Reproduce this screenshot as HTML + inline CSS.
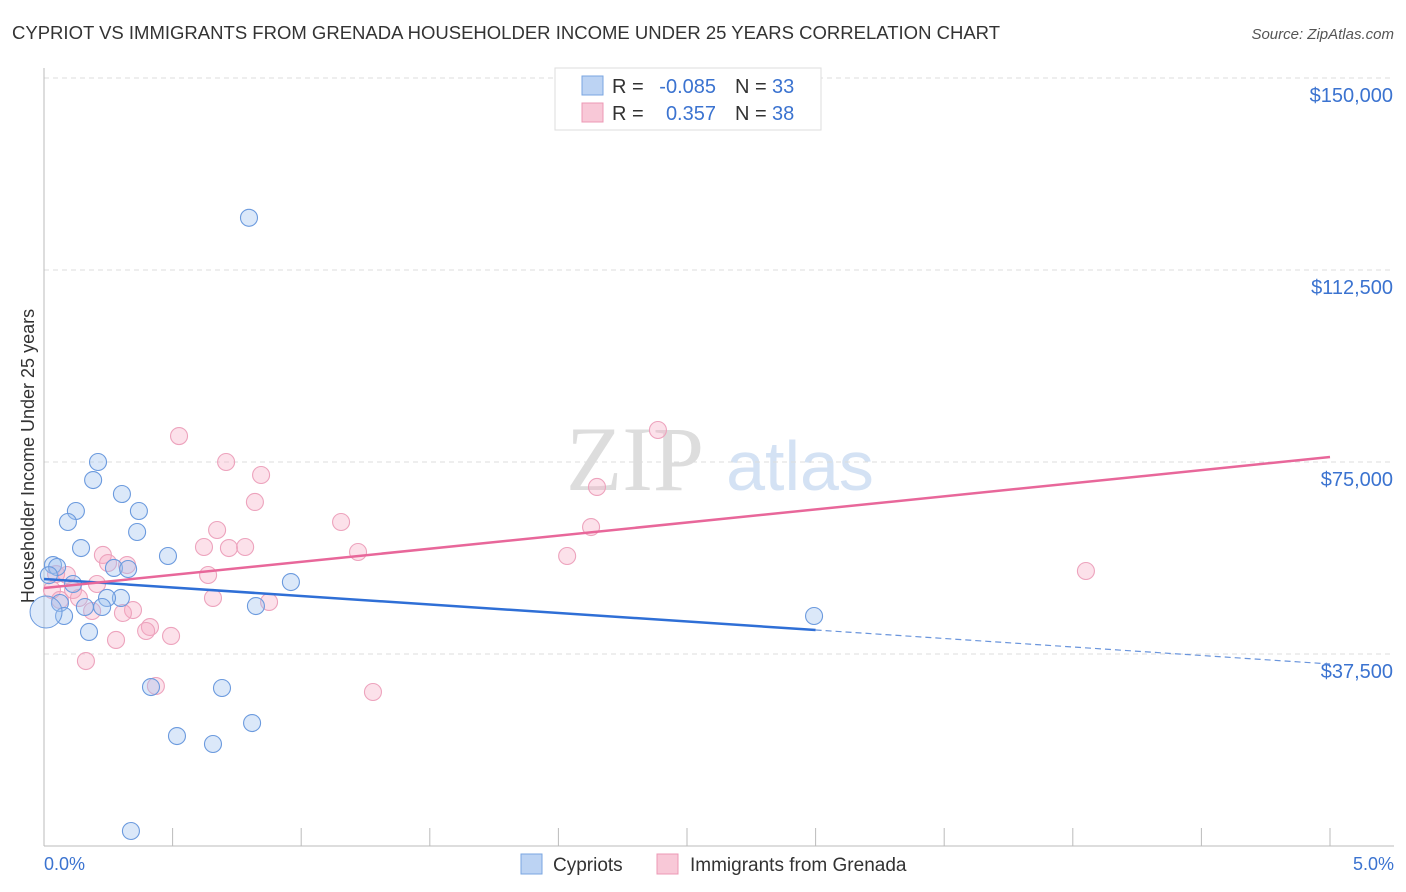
<!DOCTYPE html>
<html><head><meta charset="utf-8"><style>
body{margin:0;background:#fff;font-family:"Liberation Sans",sans-serif;}
svg{display:block}
</style></head><body>
<svg id="chart" width="1406" height="892" xmlns="http://www.w3.org/2000/svg" font-family="Liberation Sans, sans-serif">
<text x="12" y="39" font-size="18" fill="#333" textLength="988" lengthAdjust="spacingAndGlyphs">CYPRIOT VS IMMIGRANTS FROM GRENADA HOUSEHOLDER INCOME UNDER 25 YEARS CORRELATION CHART</text>
<text x="1394" y="39" font-size="15" fill="#555" font-style="italic" text-anchor="end">Source: ZipAtlas.com</text>
<text transform="translate(34,456) rotate(-90)" font-size="18" fill="#333" text-anchor="middle">Householder Income Under 25 years</text>
<g>
<text x="635" y="490" font-size="92" fill="#ddd" font-family="Liberation Serif, serif" text-anchor="middle">ZIP</text>
<text x="800" y="490" font-size="70" fill="#d4e2f4" text-anchor="middle">atlas</text>
</g>
<g id="grid"></g><g id="marks"></g>
<g>
<rect x="555" y="68" width="266" height="62" fill="#fff" stroke="#ddd"/>
<rect x="582" y="76" width="21" height="19" fill="#bcd3f3" stroke="#7aa6e0"/>
<rect x="582" y="103" width="21" height="19" fill="#f8c8d7" stroke="#ec98b4"/>
<text x="612" y="93" font-size="20" fill="#333">R =</text>
<text x="716" y="93" font-size="20" fill="#3b73d0" text-anchor="end">-0.085</text>
<text x="735" y="93" font-size="20" fill="#333">N =</text>
<text x="772" y="93" font-size="20" fill="#3b73d0">33</text>
<text x="612" y="120" font-size="20" fill="#333">R =</text>
<text x="716" y="120" font-size="20" fill="#3b73d0" text-anchor="end">0.357</text>
<text x="735" y="120" font-size="20" fill="#333">N =</text>
<text x="772" y="120" font-size="20" fill="#3b73d0">38</text>
</g>
<g>
<rect x="521" y="854" width="21" height="20" fill="#bcd3f3" stroke="#7aa6e0"/>
<text x="553" y="871" font-size="19" fill="#333">Cypriots</text>
<rect x="657" y="854" width="21" height="20" fill="#f8c8d7" stroke="#ec98b4"/>
<text x="690" y="871" font-size="19" fill="#333">Immigrants from Grenada</text>
</g>
<text x="44" y="870" font-size="18" fill="#3b73d0">0.0%</text>
<text x="1394" y="870" font-size="18" fill="#3b73d0" text-anchor="end">5.0%</text>
</svg>
<script>
const yTicks=[37500,75000,112500,150000];
const yTickLabels=["$37,500","$75,000","$112,500","$150,000"];
const xTicks=[0,0.5,1,1.5,2,2.5,3,3.5,4,4.5,5];
const cypX=[0.797,0.210,0.191,0.303,0.124,0.369,0.093,0.362,0.144,0.482,0.035,0.051,0.272,0.327,0.960,0.113,0.299,0.245,0.062,0.159,0.226,0.824,2.994,0.078,0.175,0.416,0.692,0.809,0.517,0.657,0.338,0.019];
const cypY=[122700,75000,71480,68750,65430,65430,63280,61330,58200,56640,54880,54490,54300,54100,51560,51170,48440,48440,47460,46680,46680,46870,44920,44920,41800,31050,30860,24020,21480,19920,2930,52900];
const greX=[0.525,2.387,0.708,0.844,2.150,0.820,1.155,2.127,0.673,0.622,0.719,0.782,1.221,2.034,0.229,0.249,0.323,4.051,0.047,0.089,0.638,0.206,0.113,0.031,0.136,0.657,0.062,0.875,0.187,0.346,0.307,0.412,0.397,0.494,0.280,0.163,0.435,1.279];
const greY=[80070,81250,75000,72460,70120,67190,63280,62300,61720,58400,58200,58400,57420,56640,56840,55270,54880,53710,53120,52930,52930,51170,50000,50000,48440,48440,48050,47660,45900,46090,45510,42770,41990,41020,40240,36130,31250,30080];
const cypTrendX=[0,3,5];
const cypTrendY=[52150,42190,35550];
const greTrendX=[0,5];
const greTrendY=[50390,75970];
const NS="http://www.w3.org/2000/svg";
const sx=v=>44+v/5*1286;
const sy=v=>846-v/37500*192;
function mk(t,a,p){const e=document.createElementNS(NS,t);for(const k in a)e.setAttribute(k,a[k]);p.appendChild(e);return e;}
const grid=document.getElementById('grid'),marks=document.getElementById('marks');
yTicks.forEach((v,i)=>{
  const l=mk('line',{x1:44,x2:1394,y1:sy(v),y2:sy(v),stroke:'#ddd','stroke-dasharray':'5,4'},grid);
  
  
  const t=mk('text',{x:1393,y:sy(v)+24,'font-size':20,fill:'#3b73d0','text-anchor':'end'},grid);
  t.textContent=yTickLabels[i];
  
  
});
const ax=mk('line',{x1:44,x2:44,y1:68,y2:846,stroke:'#bbb'},grid);


const bx=mk('line',{x1:44,x2:1394,y1:846,y2:846,stroke:'#bbb'},grid);


xTicks.forEach(v=>{
  const t=mk('line',{x1:sx(v),x2:sx(v),y1:828,y2:846,stroke:'#bbb'},grid);
  
  
});
function pts(X,Y,fill,stroke,name){
  X.forEach((x,i)=>{
    const c=mk('circle',{cx:sx(x),cy:sy(Y[i]),r:8.5,fill:fill,stroke:stroke,'stroke-width':1.1},marks);
    
    
  });
}
pts(greX,greY,'rgba(245,170,195,0.35)','#eda3bd','grenada-point');
pts(cypX,cypY,'rgba(160,195,240,0.38)','#6b9ade','cypriot-point');
const big=mk('circle',{cx:sx(0.008),cy:sy(45700),r:16,fill:'rgba(160,195,240,0.35)',stroke:'#6b9ade','stroke-width':1},marks);


const t1=mk('line',{x1:sx(cypTrendX[0]),y1:sy(cypTrendY[0]),x2:sx(cypTrendX[1]),y2:sy(cypTrendY[1]),stroke:'#2f6fd6','stroke-width':2.5},marks);


const t2=mk('line',{x1:sx(cypTrendX[1]),y1:sy(cypTrendY[1]),x2:sx(cypTrendX[2]),y2:sy(cypTrendY[2]),stroke:'#6a95dc','stroke-width':1.2,'stroke-dasharray':'6,4'},marks);


const t3=mk('line',{x1:sx(greTrendX[0]),y1:sy(greTrendY[0]),x2:sx(greTrendX[1]),y2:sy(greTrendY[1]),stroke:'#e8679a','stroke-width':2.5},marks);


</script>
</body></html>
